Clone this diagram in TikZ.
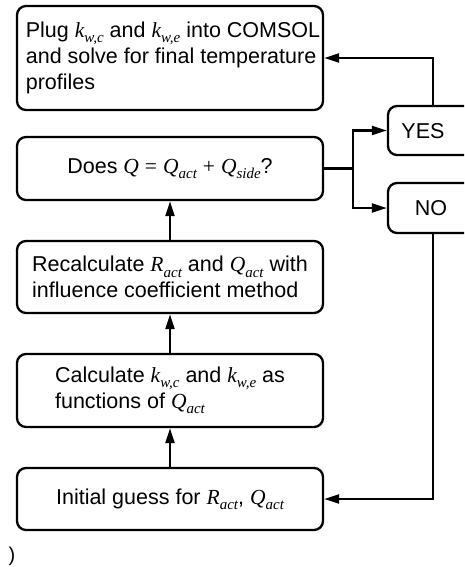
\documentclass[tikz,border=0pt]{standalone}
\usepackage{fontspec}
\setmainfont{Liberation Sans}
\newfontfamily\tms{Liberation Serif}
\usetikzlibrary{arrows.meta}
\newcommand\mvar[1]{{\tms\itshape #1}}
\newcommand\msub[2]{{\tms\itshape #1\raisebox{-0.25em}{\fontsize{15}{15}\selectfont #2}}}
\tikzset{
  box/.style={draw, line width=2.3pt, rounded corners=9pt, font=\fontsize{21.5}{26}\selectfont, inner sep=2pt, align=left},
  arr/.style={line width=2.3pt, -{Triangle[length=15pt,width=9pt]}},
  lbl/.style={font=\fontsize{21.5}{26}\selectfont, inner sep=0pt}
}
\begin{document}
\begin{tikzpicture}[x=1pt,y=-1pt]
\clip (0,0) rectangle (464,567);
\node[box, minimum width=306pt, minimum height=104pt] (plug) at (170,58)
  {\hspace*{6pt}Plug \msub{k}{w,c} and \msub{k}{w,e} into COMSOL\\\hspace*{6pt}and solve for final temperature\\\hspace*{6pt}profiles};
\node[box, minimum width=306pt, minimum height=63pt] (does) at (170,168.5)
  {Does \mvar{Q} {\tms =} \msub{Q}{act} {\tms +} \msub{Q}{side}?};
\node[box, minimum width=306pt, minimum height=72pt] (recalc) at (170,277)
  {Recalculate \msub{R}{act} and \msub{Q}{act} with\\influence coefficient method};
\node[box, minimum width=306pt, minimum height=73pt] (calc) at (170,390.5)
  {Calculate \msub{k}{w,c} and \msub{k}{w,e} as\\functions of \msub{Q}{act}};
\node[box, minimum width=306pt, minimum height=62pt] (init) at (170,499)
  {Initial guess for \msub{R}{act}, \msub{Q}{act}};
\node[box, minimum width=90pt, minimum height=49pt] (yes) at (433,130.5) {};
\node[box, minimum width=90pt, minimum height=50pt] (no) at (433,208) {};
\node[lbl] (yest) at (423,131) {YES};
\node[lbl] (not) at (431,208) {NO};
\node[lbl, font=\fontsize{20}{24}\selectfont] (paren) at (12,556) {)};
\coordinate (j) at (353,168.5);
\draw[arr] (init.north) -- (calc.south);
\draw[arr] (calc.north) -- (recalc.south);
\draw[arr] (recalc.north) -- (does.south);
\draw[line width=2.3pt] (does.east) -- (j);
\draw[arr] (j) |- (yes.west);
\draw[arr] (j) |- (no.west);
\draw[arr] (yes.north) |- (plug.east);
\draw[arr] (no.south) |- (init.east);
\end{tikzpicture}
\end{document}
